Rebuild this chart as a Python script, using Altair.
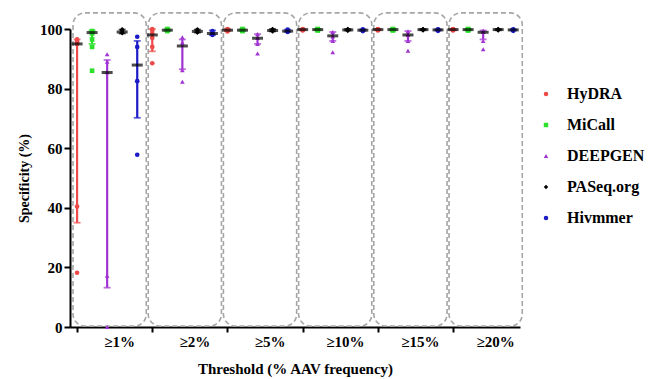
import altair as alt
import pandas as pd

tools = ["HyDRA", "MiCall", "DEEPGEN", "PASeq.org", "Hivmmer"]
thresholds = ["≥1%", "≥2%", "≥5%", "≥10%", "≥15%", "≥20%"]
colors = ["#ef4a4a", "#2fe02f", "#a233d3", "#000000", "#1b1bc8"]
shapes = ["circle", "square", "triangle-up", "diamond", "circle"]

# median per tool, per threshold
medians = {
    "HyDRA":     [95.0, 98.0, 99.6, 99.8, 99.8, 99.8],
    "MiCall":    [98.8, 99.6, 99.6, 99.8, 99.8, 99.8],
    "DEEPGEN":   [85.4, 94.3, 96.9, 97.7, 98.0, 98.9],
    "PASeq.org": [99.0, 99.2, 99.5, 99.7, 99.8, 99.8],
    "Hivmmer":   [87.9, 98.5, 99.3, 99.6, 99.7, 99.7],
}
lowers = {
    "HyDRA":     [35.0, 92.5, 99.3, 99.6, 99.6, 99.6],
    "MiCall":    [95.0, 99.3, 99.3, 99.6, 99.6, 99.6],
    "DEEPGEN":   [13.2, 86.5, 95.0, 96.0, 96.0, 96.5],
    "PASeq.org": [98.5, 98.8, 99.2, 99.5, 99.6, 99.6],
    "Hivmmer":   [70.2, 98.0, 99.0, 99.4, 99.5, 99.5],
}
uppers = {
    "HyDRA":     [96.5, 100.0, 100.0, 100.0, 100.0, 100.0],
    "MiCall":    [99.5, 100.0, 100.0, 100.0, 100.0, 100.0],
    "DEEPGEN":   [89.6, 96.5, 98.3, 99.0, 99.3, 99.5],
    "PASeq.org": [99.8, 99.8, 100.0, 100.0, 100.0, 100.0],
    "Hivmmer":   [96.0, 99.5, 99.8, 99.9, 99.9, 99.9],
}
points = {
    "HyDRA": [
        [18.2, 40.4, 95.0, 95.5, 96.0, 96.5],
        [88.5, 94.0, 97.0, 98.5, 99.5, 100.0],
        [99.2, 99.5, 99.8, 100.0],
        [99.5, 99.7, 99.9, 100.0],
        [99.5, 99.7, 99.9, 100.0],
        [99.5, 99.7, 99.9, 100.0],
    ],
    "MiCall": [
        [86.0, 94.0, 96.5, 98.5, 99.0, 99.3],
        [99.3, 99.6, 99.8, 100.0],
        [99.3, 99.6, 99.8, 100.0],
        [99.5, 99.7, 99.9, 100.0],
        [99.5, 99.7, 99.9, 100.0],
        [99.5, 99.7, 99.9, 100.0],
    ],
    "DEEPGEN": [
        [0.0, 17.2, 85.5, 89.0, 91.5],
        [82.3, 86.2, 95.5, 97.2],
        [91.8, 95.0, 97.0, 98.3],
        [92.2, 96.0, 97.5, 99.0],
        [92.7, 96.0, 98.0, 99.2],
        [93.2, 96.0, 99.0, 99.5],
    ],
    "PASeq.org": [
        [98.6, 99.0, 99.5, 99.9],
        [98.8, 99.2, 99.5, 99.9],
        [99.2, 99.5, 99.8, 100.0],
        [99.4, 99.7, 99.9, 100.0],
        [99.5, 99.8, 99.9, 100.0],
        [99.5, 99.8, 99.9, 100.0],
    ],
    "Hivmmer": [
        [57.8, 82.5, 94.0, 97.4],
        [98.0, 98.6, 99.3],
        [99.0, 99.3, 99.8],
        [99.3, 99.6, 99.9],
        [99.4, 99.7, 99.9],
        [99.4, 99.7, 99.9],
    ],
}

n_tools = len(tools)
summary_rows, point_rows, box_rows = [], [], []
for g, th in enumerate(thresholds):
    box_rows.append({"threshold": th, "x0": g * n_tools - 0.27, "x1": g * n_tools + 4.6})
    for t, tool in enumerate(tools):
        pos = g * n_tools + t
        summary_rows.append({
            "tool": tool, "threshold": th, "pos": pos,
            "median": medians[tool][g], "lower": lowers[tool][g], "upper": uppers[tool][g],
        })
        for v in points[tool][g]:
            point_rows.append({"tool": tool, "threshold": th, "pos": pos, "value": v})

summary = pd.DataFrame(summary_rows)
pts = pd.DataFrame(point_rows)
boxes = pd.DataFrame(box_rows)

FONT = "Liberation Serif"
tick_vals = [g * n_tools for g in range(len(thresholds))]
label_vals = [g * n_tools + 2.8 for g in range(len(thresholds))]
label_arr = "[" + ",".join("'" + t + "'" for t in thresholds) + "]"

x_scale = alt.Scale(domain=[-0.47, 29.45], nice=False, zero=False)
y_scale = alt.Scale(domain=[0, 100], nice=False)

x_axis = alt.Axis(
    values=tick_vals + label_vals,
    labelExpr=f"datum.value % 5 == 0 ? '' : {label_arr}[floor(datum.value / 5)]",
    tickOpacity={"condition": {"test": "datum.value % 5 == 0", "value": 1}, "value": 0},
    title="Threshold (% AAV frequency)",
    grid=False, domainColor="black", domainWidth=2, tickColor="black", tickWidth=2, tickSize=5,
    labelFont=FONT, labelFontSize=15, labelFontWeight="bold", labelColor="black",
    labelPadding=2, labelOverlap=False, labelFlush=False,
    titleFont=FONT, titleFontSize=15, titleFontWeight="bold", titleColor="black", titlePadding=12,
)
y_axis = alt.Axis(
    values=[0, 20, 40, 60, 80, 100], title="Specificity (%)",
    grid=False, domainColor="black", domainWidth=2, tickColor="black", tickWidth=2, tickSize=6,
    labelFont=FONT, labelFontSize=15, labelFontWeight="bold", labelColor="black", labelPadding=2,
    titleFont=FONT, titleFontSize=14, titleFontWeight="bold", titleColor="black", titlePadding=8,
)

color_scale = alt.Scale(domain=tools, range=colors)
shape_scale = alt.Scale(domain=tools, range=shapes)

box_layer = alt.Chart(boxes).mark_rect(
    fill=None, stroke="#a6a6a6", strokeWidth=1.6, strokeDash=[5, 3], cornerRadius=12
).encode(
    x=alt.X("x0:Q", scale=x_scale, axis=x_axis),
    x2="x1:Q",
    y=alt.Y("y0:Q", scale=y_scale, axis=y_axis),
    y2="y1:Q",
).transform_calculate(y0="0.3", y1="105.4")

err_layer = alt.Chart(summary).mark_rule(strokeWidth=2.2).encode(
    x=alt.X("pos:Q", scale=x_scale),
    y=alt.Y("lower:Q", scale=y_scale),
    y2="upper:Q",
    color=alt.Color("tool:N", scale=color_scale, legend=None),
)

caps = alt.Chart(summary).transform_fold(["lower", "upper"], as_=["end", "val"]).mark_tick(
    orient="horizontal", size=7, thickness=1.8
).encode(
    x=alt.X("pos:Q", scale=x_scale),
    y=alt.Y("val:Q", scale=y_scale),
    color=alt.Color("tool:N", scale=color_scale, legend=None),
)

legend = alt.Legend(
    orient="none", legendX=468, legendY=57, padding=0,
    labelFont=FONT, labelFontSize=16, labelFontWeight="bold", labelColor="black",
    symbolSize=20, rowPadding=15, labelOffset=13,
)

point_layer = alt.Chart(pts).mark_point(filled=True, size=22, opacity=1).encode(
    x=alt.X("pos:Q", scale=x_scale),
    y=alt.Y("value:Q", scale=y_scale),
    color=alt.Color("tool:N", scale=color_scale, title=None, legend=legend),
    shape=alt.Shape("tool:N", scale=shape_scale, title=None, legend=legend),
)

median_layer = alt.Chart(summary).mark_tick(
    orient="horizontal", size=11, thickness=3, color="black"
).encode(
    x=alt.X("pos:Q", scale=x_scale),
    y=alt.Y("median:Q", scale=y_scale),
)

chart = alt.layer(box_layer, err_layer, caps, point_layer, median_layer).resolve_scale(
    color="independent", shape="independent"
).properties(
    width=450, height=298,
    background="white",
    autosize=alt.AutoSizeParams(type="none"),
    padding={"left": 70, "top": 29, "right": 130, "bottom": 52},
).configure_view(stroke=None)

chart.save("out.html", embed_options={"renderer": "svg", "actions": False})
